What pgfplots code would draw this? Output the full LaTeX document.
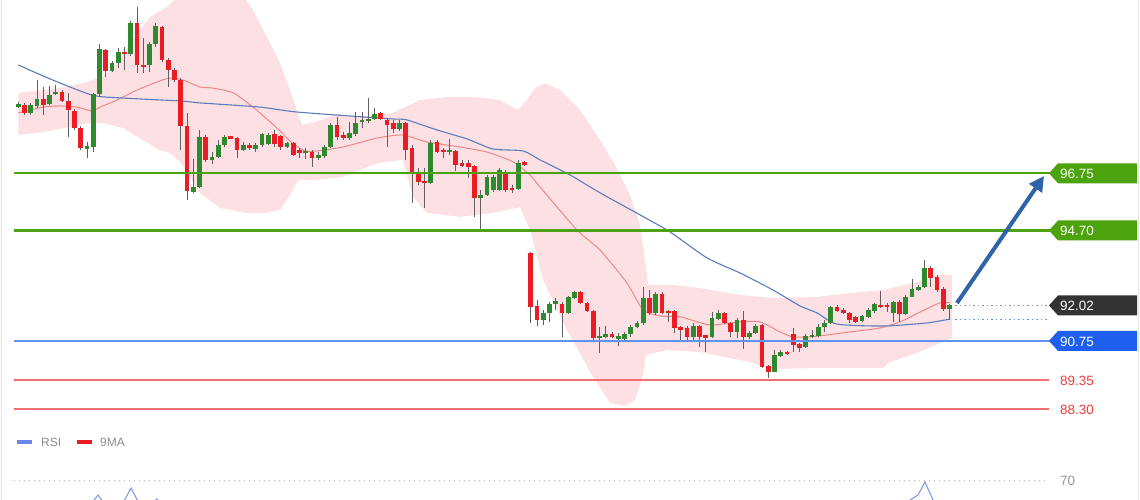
\documentclass[border=0pt]{standalone}
\usepackage{pgfplots}
\pgfplotsset{compat=1.18}
\usepackage{pgfplotstable}
\usepackage{fontspec}
\setmainfont{Liberation Sans}
\usetikzlibrary{arrows.meta}
\definecolor{cgreen}{RGB}{45,138,45}
\definecolor{cred}{RGB}{236,28,36}
\definecolor{wick}{RGB}{95,95,95}
\definecolor{lvlgreen}{RGB}{76,163,14}
\definecolor{lvlblue}{RGB}{96,146,238}
\definecolor{tagblue}{RGB}{31,95,239}
\definecolor{tagdark}{RGB}{51,51,51}
\definecolor{levelpink}{RGB}{242,110,112}
\definecolor{txtred}{RGB}{240,60,60}
\definecolor{bandpink}{RGB}{252,224,227}
\definecolor{maRed}{RGB}{240,135,135}
\definecolor{maBlue}{RGB}{90,125,190}
\definecolor{arrowblue}{RGB}{47,99,170}
\definecolor{rsiblue}{RGB}{120,150,230}
\definecolor{dotgray}{RGB}{150,150,150}

\pgfplotstableread{
i o h l c
0 99.12 99.30 99.09 99.23
2 98.91 99.27 98.84 99.20
3 99.16 100.09 99.09 99.41
5 99.23 99.88 99.20 99.55
6 99.59 99.91 99.55 99.66
11 97.66 97.87 97.30 97.69
12 97.69 99.63 97.51 99.59
13 99.59 101.38 99.48 101.20
15 100.41 100.77 100.38 100.70
16 100.70 101.24 100.52 101.09
18 101.02 102.20 100.95 102.13
21 100.63 101.45 100.38 101.38
22 101.38 102.13 101.27 102.02
28 96.08 97.26 96.05 96.26
29 96.26 98.30 96.22 98.05
31 97.23 97.51 97.08 97.33
32 97.33 97.94 97.30 97.76
33 97.76 98.12 97.69 98.05
36 97.58 97.87 97.55 97.76
38 97.62 97.84 97.51 97.76
39 97.76 98.19 97.69 98.16
40 97.80 98.19 97.76 98.12
43 97.69 97.87 97.66 97.84
46 97.48 97.66 97.26 97.55
48 97.30 97.51 97.23 97.41
49 97.37 97.76 97.30 97.69
50 97.69 98.55 97.66 98.48
53 98.01 98.59 97.94 98.19
54 98.16 98.95 98.09 98.55
55 98.59 98.95 98.37 98.66
56 98.62 99.45 98.55 98.69
57 98.69 99.09 98.66 98.87
61 98.34 98.66 98.26 98.55
66 96.40 97.94 96.37 97.84
69 97.51 97.98 97.41 97.58
74 95.87 96.15 94.72 95.97
75 95.97 96.69 95.94 96.62
76 96.15 96.69 96.08 96.62
77 96.15 96.94 96.12 96.87
80 96.19 97.23 96.15 97.12
84 91.50 91.86 91.32 91.75
85 91.75 92.14 91.43 92.07
86 92.11 92.29 91.86 92.14
88 91.75 92.36 91.71 92.32
89 92.29 92.54 92.25 92.50
93 90.85 91.25 90.32 90.92
94 90.89 91.28 90.85 91.00
96 90.82 91.03 90.57 90.92
97 90.82 91.07 90.78 91.00
98 91.00 91.32 90.89 91.25
99 91.25 91.46 91.21 91.39
100 91.39 92.68 91.32 92.29
102 91.75 92.50 91.68 92.43
108 90.89 91.39 90.78 91.28
111 90.89 91.78 90.85 91.57
112 91.53 91.86 91.50 91.75
115 91.07 91.57 90.85 91.50
117 90.89 91.10 90.82 91.03
118 91.03 91.35 91.00 91.28
121 89.64 90.42 89.64 90.25
122 90.21 90.42 90.17 90.35
126 90.53 91.00 90.50 90.92
127 90.89 91.14 90.85 90.96
128 90.92 91.35 90.89 91.25
129 91.25 91.50 91.07 91.39
130 91.39 92.00 91.35 91.96
135 91.46 91.68 91.43 91.64
136 91.61 91.93 91.57 91.86
137 91.82 92.11 91.75 92.07
140 91.75 92.18 91.43 92.14
142 91.71 92.39 91.68 92.32
143 92.32 92.97 92.32 92.61
144 92.57 92.75 92.54 92.68
145 92.68 93.65 92.64 93.36
149 91.89 92.07 91.50 92.03
}\upcandles

\pgfplotstableread{
i o h l c
1 99.20 99.27 98.84 98.91
4 99.41 99.84 98.84 99.20
7 99.66 99.73 99.30 99.34
8 99.34 99.63 98.05 99.02
9 98.98 99.05 98.30 98.37
10 98.37 98.44 97.58 97.66
14 101.16 101.20 100.20 100.41
17 101.09 101.27 100.45 101.02
19 102.13 102.70 100.34 100.63
20 100.63 101.59 100.34 100.56
23 101.99 102.02 100.74 100.81
24 100.81 100.88 99.84 100.45
25 100.45 100.52 100.02 100.09
26 100.09 100.16 97.58 98.44
27 98.44 98.91 95.79 96.12
30 98.05 98.12 97.16 97.23
34 98.05 98.09 97.98 98.01
35 98.01 98.05 97.30 97.58
37 97.76 97.84 97.58 97.66
41 98.16 98.30 97.69 97.80
42 98.09 98.12 97.58 97.69
44 97.84 97.87 97.37 97.41
45 97.58 97.66 97.30 97.48
47 97.51 97.58 96.98 97.30
51 98.48 98.77 97.94 98.05
52 98.12 98.23 97.94 98.01
58 98.91 98.95 98.66 98.69
59 98.66 98.73 97.69 98.48
60 98.55 98.66 98.19 98.34
62 98.55 98.59 97.23 97.58
63 97.66 97.76 95.69 96.80
64 96.73 96.94 96.33 96.44
65 96.47 96.94 95.51 96.40
67 97.87 97.94 97.48 97.51
68 97.58 97.66 97.30 97.51
70 97.55 97.58 96.83 97.05
71 97.12 97.23 96.98 97.01
72 97.12 97.23 96.58 96.98
73 97.01 97.05 95.19 95.87
78 96.80 96.87 96.08 96.15
79 96.22 96.33 96.05 96.15
81 97.16 97.19 97.01 97.05
82 93.90 93.93 91.39 91.96
83 92.00 92.21 91.28 91.50
87 92.07 92.14 90.89 91.75
90 92.50 92.54 92.07 92.11
91 92.11 92.14 91.78 91.82
92 91.82 91.86 90.78 90.85
95 91.00 91.07 90.85 90.89
101 92.29 92.57 91.68 91.75
103 92.43 92.50 91.71 91.75
104 91.82 91.86 91.43 91.75
105 91.82 91.86 91.03 91.21
106 91.21 91.28 90.71 91.18
107 91.21 91.28 90.78 90.89
109 91.28 91.32 90.53 90.89
110 90.92 90.96 90.35 90.89
113 91.75 91.78 91.35 91.39
114 91.39 91.43 90.89 91.07
116 91.50 91.82 90.46 90.89
119 91.32 91.35 89.78 89.82
120 89.85 89.89 89.42 89.64
123 90.35 90.39 90.25 90.28
124 91.00 91.21 90.35 90.60
125 90.64 90.67 90.35 90.50
131 91.96 92.03 91.78 91.82
132 91.86 91.93 91.71 91.75
133 91.75 91.78 91.39 91.50
134 91.61 91.64 91.39 91.43
138 92.03 92.54 91.93 91.96
139 92.03 92.11 91.78 91.96
141 92.14 92.21 91.43 91.71
146 93.36 93.43 92.68 93.00
147 93.04 93.11 92.50 92.57
148 92.61 92.68 91.82 91.89
}\downcandles

\pgfplotstableread{
x y
-0.69 89.35
164.9 89.35
}\supportA
\pgfplotstableread{
x y
-0.69 88.30
164.9 88.30
}\supportB

\pgfplotsset{
  candle/.style 2 args={only marks, mark=*, mark size=0pt,
    mark options={draw=none, fill=none}, forget plot,
    error bars/.cd, y dir=both, y explicit, error mark=none,
    error bar style={draw=#1, line width=#2}},
}

\begin{document}
\begin{tikzpicture}
\useasboundingbox (0,0) rectangle (1140bp,500bp);
\fill[white] (0,0) rectangle (1140bp,500bp);
\begin{axis}[at={(0,0)}, anchor=south west, scale only axis,
  width=1140bp, height=500bp, hide axis, clip=true,
  xmin=-2.928, xmax=179.47, ymin=85.05, ymax=102.955]
% Bollinger band
\addplot[fill=bandpink, draw=none, forget plot] coordinates {
(0,99.63) (3.95,99.73) (7.79,99.84) (10.99,100.02) (13.55,100.20) (16.27,100.81)
(18.99,101.77) (21.07,102.35) (23.79,102.70) (26.35,103.3) (35.47,103.3) (37.55,102.60)
(39.79,101.63) (41.87,100.70) (43.15,99.91) (44.27,99.20) (45.39,98.48) (47.47,98.59)
(51.15,98.87) (54.67,98.77) (59.95,98.91) (64.27,99.37) (68.59,99.48) (73.39,99.48)
(77.07,99.37) (79.95,99.02) (81.39,99.37) (82.67,99.80) (84.27,99.98) (86.67,99.73)
(89.87,99.02) (93.07,97.94) (95.47,97.05) (97.87,95.97) (99.47,94.90) (100.27,93.65)
(100.75,92.75) (104.75,92.75) (109.07,92.64) (115.47,92.39) (120.27,92.29) (127.79,92.32)
(133.07,92.46) (138.35,92.57) (143.79,92.86) (146.99,93.11) (149.39,93.11)
(149.39,90.85) (143.79,90.32) (139.47,89.99) (138.35,89.78) (127.79,89.78) (120.75,89.74)
(117.07,89.99) (109.07,90.35) (103.79,90.42) (100.43,90.25) (99.95,89.53) (98.67,88.63)
(97.07,88.42) (94.67,88.53) (91.95,89.46) (87.79,91.14) (83.95,92.93) (81.87,94.72)
(80.27,95.54) (75.95,95.33) (70.67,95.19) (65.39,95.33) (63.15,95.90) (61.55,97.23)
(57.39,97.12) (51.95,96.62) (47.79,96.51) (44.75,96.51) (43.47,95.97) (41.87,95.44)
(39.79,95.33) (36.59,95.33) (32.27,95.51) (29.07,96.05) (25.87,97.16) (24.27,97.48)
(22.67,97.58) (19.95,97.94) (16.75,98.37) (13.55,98.55) (10.99,98.55) (8.27,98.41)
(3.95,98.23) (0,98.12)
} -- cycle;
% middle (red) moving average
\addplot[color=maRed, line width=1bp, smooth, tension=0.4, forget plot] coordinates {
(0,98.91) (3.95,99.12) (6.67,99.16) (9.39,99.12) (11.79,98.98) (13.07,99.12) (15.79,99.37)
(18.99,99.73) (22.19,100.02) (24.27,100.16) (26.35,100.09) (29.07,99.84) (31.15,99.80)
(34.35,99.63) (37.55,99.12) (41.39,98.37) (43.79,97.84) (45.87,97.55) (47.79,97.55)
(51.95,97.69) (57.39,98.01) (61.55,98.12) (65.39,97.87) (70.67,97.69) (74.99,97.51)
(79.15,97.16) (81.87,96.69) (83.47,96.26) (89.39,94.72) (93.07,94.00) (97.39,92.82)
(99.95,91.86) (102.67,91.64) (105.87,91.61) (110.67,91.32) (115.47,91.43) (118.67,91.43)
(121.87,91.07) (123.95,90.89) (126.67,90.89) (129.39,90.96) (133.07,91.07) (137.87,91.21)
(141.07,91.43) (144.27,91.78) (147.47,92.11) (149.07,92.11)
};
% long (blue) moving average
\addplot[color=maBlue, line width=1.1bp, smooth, tension=0.4, forget plot] coordinates {
(0,100.63) (5.07,100.13) (11.79,99.55) (16.27,99.45) (25.87,99.34) (29.07,99.27)
(38.67,99.12) (44.27,98.95) (54.99,98.77) (60.27,98.69) (62.19,98.66) (67.0,98.30)
(71.79,97.98) (75.95,97.62) (80.75,97.55) (83.47,97.23) (88.27,96.69) (93.07,96.05)
(99.47,95.26) (104.27,94.65) (110.19,93.72) (115.47,93.18) (120.75,92.57) (125.07,92.00)
(127.79,91.75) (130.99,91.35) (138.35,91.28) (145.39,91.39) (149.07,91.53)
};
% wicks
\addplot[candle={wick}{1bp}]
  table[x=i, y expr={(\thisrow{h}+\thisrow{l})/2}, y error expr={(\thisrow{h}-\thisrow{l})/2}] {\upcandles};
\addplot[candle={wick}{1bp}]
  table[x=i, y expr={(\thisrow{h}+\thisrow{l})/2}, y error expr={(\thisrow{h}-\thisrow{l})/2}] {\downcandles};
% bodies
\addplot[candle={cgreen}{4.8bp}]
  table[x=i, y expr={(\thisrow{o}+\thisrow{c})/2}, y error expr={max(abs(\thisrow{o}-\thisrow{c})/2,0.04)}] {\upcandles};
\addplot[candle={cred}{4.8bp}]
  table[x=i, y expr={(\thisrow{o}+\thisrow{c})/2}, y error expr={max(abs(\thisrow{o}-\thisrow{c})/2,0.04)}] {\downcandles};
% levels
\addplot[color=lvlgreen, line width=2.4bp, forget plot] coordinates {(-0.69,96.75) (165.0,96.75)};
\addplot[color=lvlgreen, line width=2.4bp, forget plot] coordinates {(-0.69,94.70) (165.0,94.70)};
\addplot[color=lvlblue, line width=2bp, forget plot] coordinates {(-0.69,90.75) (165.0,90.75)};
\addplot[mark=none, line width=1.5bp, forget plot, color=levelpink] table[x=x, y=y] {\supportA};
\addplot[mark=none, line width=1.5bp, forget plot, color=levelpink] table[x=x, y=y] {\supportB};
\addplot[color=dotgray, line width=1bp, dash pattern=on 1.5bp off 3bp, forget plot] coordinates {(149.9,92.02) (164.8,92.02)};
\addplot[color=lvlblue, line width=1bp, dash pattern=on 1.5bp off 3bp, forget plot] coordinates {(149.9,91.53) (164.8,91.53)};
\end{axis}
% RSI panel (top of it)
\begin{axis}[at={(0,0)}, anchor=south west, scale only axis,
  width=1140bp, height=500bp, hide axis, clip=true,
  xmin=-2.928, xmax=179.47, ymin=60.5, ymax=310.5]
\addplot[color=dotgray!70, line width=1bp, dash pattern=on 1.5bp off 3.5bp, forget plot] coordinates {(-0.69,70) (164.27,70)};
\addplot[color=rsiblue, line width=1bp, forget plot] coordinates {(10.67,55) (12.75,63) (13.87,58) (16.59,58) (18.03,66.5) (19.47,58) (21.07,58) (22.19,61) (23.47,55)};
\addplot[color=rsiblue, line width=1bp, forget plot] coordinates {(141.07,55) (142.67,60.5) (143.95,63) (145.07,69.5) (146.35,60.5) (147.47,55)};
\end{axis}
% annotations in pixel coordinates
\begin{scope}[x=1bp, y=-1bp, yshift=500bp]
\draw[gray!20, line width=1bp] (1.5,0) -- (1.5,500);
\draw[gray!20, line width=1bp] (1138.5,0) -- (1138.5,500);
\draw[arrowblue, line width=4bp, -{Triangle[length=15bp,width=15bp]}] (957,303) -- (1044,176);
\fill[lvlgreen] (1049,173.3) -- (1058,163.3) -- (1137,163.3) -- (1137,183.3) -- (1058,183.3) -- cycle;
\node[anchor=west, text=white, inner sep=0pt, font=\fontsize{13.5}{16}\selectfont] at (1060,173.8) {96.75};
\fill[lvlgreen] (1049,230.5) -- (1058,220.5) -- (1137,220.5) -- (1137,240.5) -- (1058,240.5) -- cycle;
\node[anchor=west, text=white, inner sep=0pt, font=\fontsize{13.5}{16}\selectfont] at (1060,231) {94.70};
\fill[tagdark] (1049,305.4) -- (1058,295.4) -- (1137,295.4) -- (1137,315.4) -- (1058,315.4) -- cycle;
\node[anchor=west, text=white, inner sep=0pt, font=\fontsize{13.5}{16}\selectfont] at (1060,305.9) {92.02};
\fill[tagblue] (1049,340.9) -- (1058,330.9) -- (1137,330.9) -- (1137,350.9) -- (1058,350.9) -- cycle;
\node[anchor=west, text=white, inner sep=0pt, font=\fontsize{13.5}{16}\selectfont] at (1060,341.4) {90.75};
\node[anchor=west, text=txtred, inner sep=0pt, font=\fontsize{13.5}{16}\selectfont] at (1060,380.5) {89.35};
\node[anchor=west, text=txtred, inner sep=0pt, font=\fontsize{13.5}{16}\selectfont] at (1060,409.8) {88.30};
\node[anchor=west, text=gray!80, inner sep=0pt, font=\fontsize{13.5}{16}\selectfont] at (1060,481.2) {70};
% legend
\draw[rsiblue!90!blue, line width=4bp] (17,442.5) -- (32,442.5);
\node[anchor=west, text=gray!90, inner sep=0pt, font=\fontsize{12}{14}\selectfont] at (41,442.5) {RSI};
\draw[cred, line width=4bp] (77,442.5) -- (92,442.5);
\node[anchor=west, text=gray!90, inner sep=0pt, font=\fontsize{12}{14}\selectfont] at (100,442.5) {9MA};
\end{scope}
\end{tikzpicture}
\end{document}
